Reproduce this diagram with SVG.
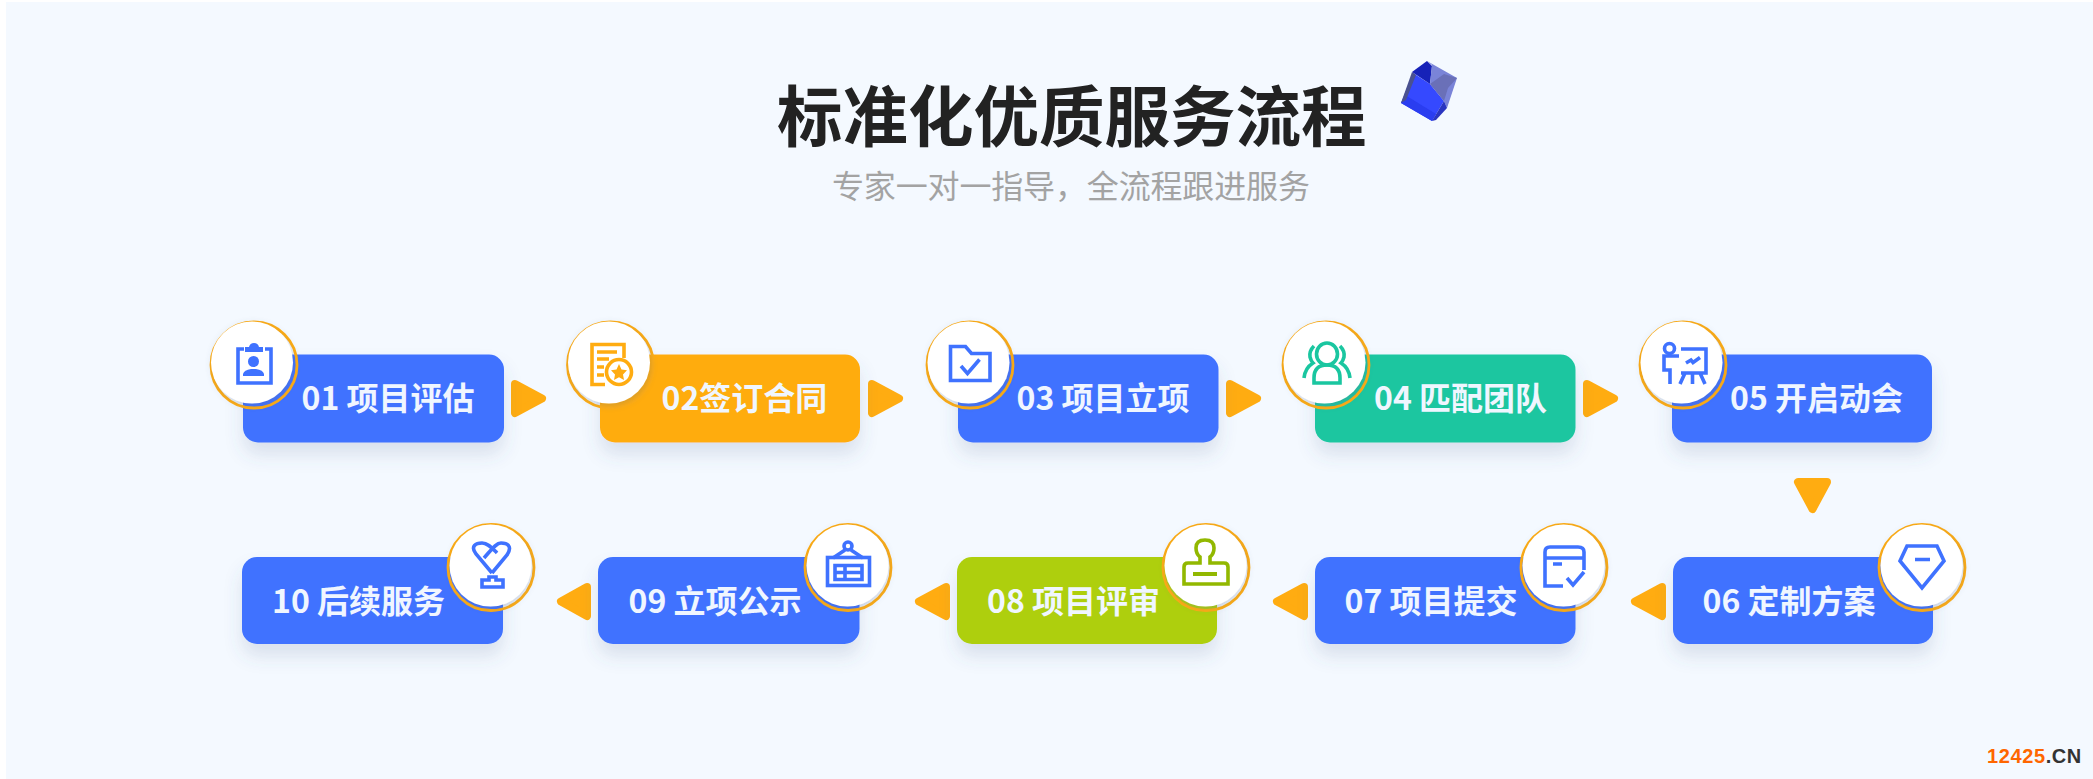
<svg xmlns="http://www.w3.org/2000/svg" width="2093" height="779" viewBox="0 0 2093 779">
<style>
.box{filter:url(#sh)}
.lb{font:700 32px "Noto Sans CJK SC","Noto Sans",sans-serif;fill:#f0f6ff}
.ring{fill:none;stroke:#ffac11;stroke-width:2.8}
.disc{fill:#fff;filter:url(#ds)}
.arr{fill:#ffac11;stroke:#ffac11;stroke-width:8;stroke-linejoin:round}
.ic{fill:none;stroke-width:3.6}
.b{stroke:#3f72ff}.bf{fill:#3f72ff}
.o{stroke:#ffac11}.of{fill:#ffac11}
.g{stroke:#1ac6a0}
.y{stroke:#92b800}
</style>
<defs>
<filter id="sh" x="-20%" y="-30%" width="140%" height="180%"><feDropShadow dx="0" dy="12" stdDeviation="9" flood-color="#4a6290" flood-opacity=".16"/></filter>
<filter id="ds" x="-20%" y="-20%" width="140%" height="140%"><feDropShadow dx="1" dy="2" stdDeviation="3" flood-color="#5a6a90" flood-opacity=".28"/></filter>
<filter id="soft"><feGaussianBlur stdDeviation=".6"/></filter>
</defs>
<rect width="2093" height="779" fill="#fff"/>
<rect x="6" y="2" width="2087" height="777" fill="#f4f9ff"/>
<g id="title">
<text x="777" y="141" style="font:700 65.500px 'Noto Sans CJK SC','Noto Sans',sans-serif" fill="#222">标准化优质服务流程</text>
<text x="832" y="198" style="font:400 32px 'Noto Sans CJK SC','Noto Sans',sans-serif;letter-spacing:-.15px" fill="#a3a3a3">专家一对一指导，全流程跟进服务</text>
</g>
<g id="cube" filter="url(#soft)">
<polygon points="1401,103 1413,73 1430,84 1444,101 1432,121" fill="#3448ff"/>
<polygon points="1401,103 1432,121 1436,114 1405,95" fill="#2a3cf0"/>
<polygon points="1401,103 1412,72 1416,75 1406,100" fill="#4a5190"/>
<polygon points="1412,72 1427,61 1432,66 1430,84" fill="#1420b8"/>
<polygon points="1432,65 1427,61 1457,78 1447,108 1444,101 1430,84" fill="#7a84d8"/>
<polygon points="1430,84 1444,74 1457,78 1448,88 1444,101" fill="#6a70b8"/>
<polygon points="1444,101 1447,108 1436,120 1432,121" fill="#2a34c0"/>
</g>
<g id="connectors">
<polygon class="arr" points="515,384 542,398.500 515,413"/>
<polygon class="arr" points="872,384 899,398.500 872,413"/>
<polygon class="arr" points="1230,384 1257,398.500 1230,413"/>
<polygon class="arr" points="1587,384 1614,398.500 1587,413"/>
<polygon class="arr" points="1798,482 1827,482 1812.500,509"/>
<polygon class="arr" points="1662,587 1635,601.500 1662,616"/>
<polygon class="arr" points="1304,587 1277,601.500 1304,616"/>
<polygon class="arr" points="946,587 919,601.500 946,616"/>
<polygon class="arr" points="587,587 561,601.500 587,616"/>
</g>
<g id="node01"><rect class="box" x="243" y="354.500" width="261" height="88" rx="15" fill="#3f72ff"/><text class="lb" x="301.500" y="409.500">01 项目评估</text>
<circle class="ring" cx="254" cy="365" r="43"/><circle class="disc" cx="252" cy="362.500" r="41"/>
<g class="ic b"><path d="M244 349h-6v34h33v-34h-6"/></g><path class="bf" d="M245 352v-5h4q1-4 5-4t5 4h4v5z"/><circle class="bf" cx="253.500" cy="361.500" r="5.500"/><path class="bf" d="M243 376v-2q1-4 8-5h5q7 1 8 5v2z"/></g>
<g id="node02"><rect class="box" x="600" y="354.500" width="260" height="88" rx="15" fill="#ffac11"/><text class="lb" x="661.500" y="409.500">02签订合同</text>
<circle class="ring" cx="610.500" cy="365" r="43"/><circle class="disc" cx="609" cy="362.500" r="41"/>
<g class="ic o"><path d="M605 384.500H592V344.500H624V358M597 352h20M597 359h12M597 367h7M597 375h7"/><circle cx="619" cy="372" r="12.500" fill="#fff"/></g><polygon class="of" points="619,364 621.500,369.500 627,370.300 623,374.500 624,380 619,377.300 614,380 615,374.500 611,370.300 616.500,369.500"/></g>
<g id="node03"><rect class="box" x="958" y="354.500" width="260.500" height="88" rx="15" fill="#3f72ff"/><text class="lb" x="1016.500" y="409.500">03 项目立项</text>
<circle class="ring" cx="970" cy="365" r="43"/><circle class="disc" cx="968.500" cy="362.500" r="41"/>
<g class="ic b"><path d="M950.500 346.500h15l6 7h18.500v27h-39.500z"/><path d="M961 366l6.500 7.500l12-14"/></g></g>
<g id="node04"><rect class="box" x="1315" y="354.500" width="260.500" height="88" rx="15" fill="#1ac6a0"/><text class="lb" x="1374" y="409.500">04 匹配团队</text>
<circle class="ring" cx="1326" cy="365" r="43"/><circle class="disc" cx="1324.500" cy="362.500" r="41"/>
<g class="ic g"><ellipse cx="1327" cy="354" rx="10.500" ry="11"/><path d="M1314 383v-5q0-13 13-13t13 13v5zM1314 346q-5 5-4 11q1 4 3 6q-8 5-9 15M1340 346q5 5 4 11q-1 4-3 6q8 5 9 15"/></g></g>
<g id="node05"><rect class="box" x="1672" y="354.500" width="260" height="88" rx="15" fill="#3f72ff"/><text class="lb" x="1730" y="409.500">05 开启动会</text>
<circle class="ring" cx="1683" cy="365" r="43"/><circle class="disc" cx="1681.500" cy="362.500" r="41"/>
<g class="ic b"><circle cx="1669.500" cy="348.500" r="5"/><path d="M1681 349h25v24h-25M1679 356h-15v14h6v14M1692.500 373v11M1685 373l-5 11M1700 373l5 11M1686 363l5-3l2 2.500l7-5"/></g></g>
<g id="node06"><rect class="box" x="1673" y="557" width="260" height="87" rx="15" fill="#3f72ff"/><text class="lb" x="1702.500" y="612.500">06 定制方案</text>
<circle class="ring" cx="1922" cy="567.500" r="43"/><circle class="disc" cx="1921.500" cy="565.500" r="41"/>
<g class="ic b"><path d="M1907 546h30l7 15l-22 27l-22-27zM1915 559.500h15"/></g></g>
<g id="node07"><rect class="box" x="1315" y="557" width="260.500" height="87" rx="15" fill="#3f72ff"/><text class="lb" x="1344.500" y="612.500">07 项目提交</text>
<circle class="ring" cx="1564" cy="567.500" r="43"/><circle class="disc" cx="1563.500" cy="565.500" r="41"/>
<g class="ic b"><path d="M1563 586H1545V552q0-5 5-5h28q6 0 6 5V570M1545 558H1584M1553 564h9M1567 578l6 7l11-13"/></g></g>
<g id="node08"><rect class="box" x="957" y="557" width="260" height="87" rx="15" fill="#aecf0a"/><text class="lb" x="987" y="612.500">08 项目评审</text>
<circle class="ring" cx="1206" cy="567.500" r="43"/><circle class="disc" cx="1205.500" cy="565.500" r="41"/>
<g class="ic y"><path d="M1200 563v-6q-4-3-4-9q0-8 9-8t9 8q0 6-4 9v6h14q4 0 4 4v17h-44v-17q0-4 4-4z"/><path d="M1193 574h24" style="stroke-width:4"/></g></g>
<g id="node09"><rect class="box" x="598" y="557" width="261.500" height="87" rx="15" fill="#3f72ff"/><text class="lb" x="628.500" y="612.500">09 立项公示</text>
<circle class="ring" cx="848" cy="567.500" r="43"/><circle class="disc" cx="847.500" cy="565.500" r="41"/>
<g class="ic b"><rect x="827.500" y="557.500" width="42" height="28"/><circle cx="848" cy="546" r="4"/><path d="M845 550l-12 8M851 550l12 8M835 565.500h27v14h-27zM835 572.500h27M845 565.500v14"/></g></g>
<g id="node10"><rect class="box" x="242" y="557" width="261" height="87" rx="15" fill="#3f72ff"/><text class="lb" x="272" y="612.500">10 后续服务</text>
<circle class="ring" cx="491" cy="567.500" r="43"/><circle class="disc" cx="490.500" cy="565.500" r="41"/>
<g class="ic b"><path d="M492 573L476 554C470 546 476 543 482 543C488 543 492 548 497 553M492 573L507 555C513 546 507 543 501 543C496 543 492 549 484 558"/><path d="M489 577h7v3h7v7h-21v-7h7z"/></g></g>
<g id="watermark"><text x="1987" y="763" style="font:700 20px 'Liberation Sans',Arial,sans-serif;letter-spacing:.6px"><tspan fill="#ff6600">12425</tspan><tspan fill="#333">.CN</tspan></text></g>
</svg>
